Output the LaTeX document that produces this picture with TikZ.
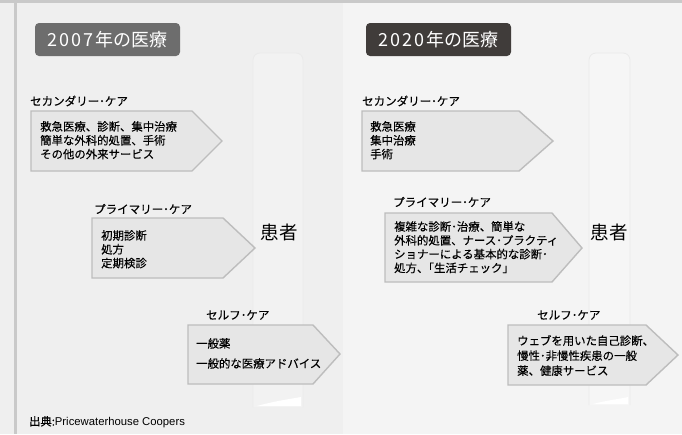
\documentclass[tikz,border=0pt]{standalone}
\usepackage{fontspec}
\setmainfont{Noto Sans CJK JP}[FakeBold=0.25]
\newfontfamily\latinfont{Liberation Sans}
\newfontfamily\titlefont{Noto Sans CJK JP}
\definecolor{bgL}{HTML}{EFEFEF}
\definecolor{bgR}{HTML}{F4F4F4}
\definecolor{frameC}{HTML}{C9C9C9}
\definecolor{titleL}{HTML}{6D6D6D}
\definecolor{titleR}{HTML}{403C3A}
\definecolor{arrFill}{HTML}{E6E6E6}
\definecolor{arrLine}{HTML}{BDBDBD}
\definecolor{colFillL}{HTML}{F2F2F2}
\definecolor{colFillR}{HTML}{F6F6F6}
\definecolor{colEdge}{HTML}{EAEAEA}
\tikzset{
  carearrow/.style={fill=arrFill, draw=arrLine, line width=1.4pt, line join=miter},
  carelabel/.style={anchor=west, inner sep=0pt, font=\fontsize{11.5}{13}\selectfont},
  caretext/.style={anchor=north west, inner sep=0pt, align=left, font=\fontsize{11.4}{13.8}\selectfont},
  titlebox/.style={fill=#1, rounded corners=4pt, inner sep=0pt, minimum width=145pt, minimum height=33pt, text=white, font=\titlefont\fontsize{18}{20}\selectfont},
  patient/.style={inner sep=0pt, font=\titlefont\fontsize{18.5}{20}\selectfont},
  pcolumn/.style={fill=#1, draw=colEdge, line width=0.8pt, rounded corners=7pt},
}
\newcommand{\dg}[1]{#1\kern1.8pt}
\begin{document}
\begin{tikzpicture}[x=1pt,y=-1pt]
\useasboundingbox (0,0) rectangle (682,434);
% backgrounds
\fill[bgL] (0,0) rectangle (343,434);
\fill[bgR] (343,0) rectangle (682,434);
\fill[frameC] (0,0) rectangle (682,2.5);
\fill[frameC] (14,0) rectangle (16.5,434);

% patient columns
\path[pcolumn=colFillL] (253,407) -- (253,53) -- (303,53) -- (303,407);
\fill[white] (257,406) .. controls (275,401) and (290,399) .. (301,397) -- (301,406) -- cycle;
\path[pcolumn=colFillR] (589,405) -- (589,53) -- (630,53) -- (630,405);
\fill[white] (593,404) .. controls (608,400) and (620,399) .. (628,397) -- (628,404) -- cycle;

% titles
\node[titlebox=titleL] (t07) at (107.5,39.5) {\dg{2}\dg{0}\dg{0}\dg{7}年の医療};
\node[titlebox=titleR] (t20) at (438.5,39.5) {\dg{2}\dg{0}\dg{2}\dg{0}年の医療};

% ---- 2007 ----
\node[carelabel] (ls) at (30,101) {セカンダリー･ケア};
\draw[carearrow] (31,111) -- (192,111) -- (222,141) -- (192,171) -- (31,171) -- cycle;
\node[caretext] (lst) at (40,121) {救急医療、診断、集中治療\\簡単な外科的処置、手術\\その他の外来サービス};

\node[carelabel] (lp) at (94,209) {プライマリー･ケア};
\draw[carearrow] (92,218) -- (223,218) -- (255,248) -- (223,278) -- (92,278) -- cycle;
\node[caretext] (lpt) at (101,230) {初期診断\\処方\\定期検診};

\node[patient] (lpat) at (279,232) {患者};

\node[carelabel] (lf) at (206,315) {セルフ･ケア};
\draw[carearrow] (188,325) -- (313,325) -- (340,354) -- (313,384) -- (188,384) -- cycle;
\node[caretext, font=\fontsize{11.4}{20}\selectfont] (lft) at (196,338) {一般薬\\一般的な医療アドバイス};

\node[anchor=west, inner sep=0pt, font=\fontsize{11.3}{13}\selectfont] (src) at (29,422) {出典:{\latinfont Pricewaterhouse Coopers}};

% ---- 2020 ----
\node[carelabel] (rs) at (362,101) {セカンダリー･ケア};
\draw[carearrow] (362,111) -- (519,111) -- (553,141) -- (519,171) -- (362,171) -- cycle;
\node[caretext] (rst) at (370,121) {救急医療\\集中治療\\手術};

\node[carelabel] (rp) at (393,202) {プライマリー･ケア};
\draw[carearrow] (385,213) -- (552,213) -- (582,248) -- (552,282) -- (385,282) -- cycle;
\node[caretext] (rpt) at (394,221) {複雑な診断･治療、簡単な\\外科的処置、ナース･プラクティ\\ショナーによる基本的な診断･\\処方、｢生活チェック｣};

\node[patient] (rpat) at (609,232) {患者};

\node[carelabel] (rf) at (537,315) {セルフ･ケア};
\draw[carearrow] (508,325) -- (646,325) -- (678,355) -- (646,385) -- (508,385) -- cycle;
\node[caretext, font=\fontsize{11.4}{15}\selectfont] (rft) at (517,335) {ウェブを用いた自己診断、\\慢性･非慢性疾患の一般\\薬、健康サービス};
\end{tikzpicture}
\end{document}
